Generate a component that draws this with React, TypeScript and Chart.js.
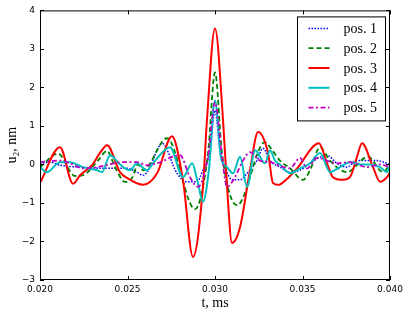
import React, { useEffect, useRef } from "react";
import { Chart, registerables } from "chart.js";

Chart.register(...registerables);

// ---- data (t in ms, u2 in nm) ----
const xTickValues = [0.02, 0.025, 0.03, 0.035, 0.04];
const yTickValues = [-3, -2, -1, 0, 1, 2, 3, 4];
const seriesLabels = ["pos. 1", "pos. 2", "pos. 3", "pos. 4", "pos. 5"];

const pos1T = [0.02, 0.02057, 0.02114, 0.02229, 0.02383, 0.02497, 0.02554, 0.02589, 0.02629, 0.02669, 0.02697, 0.02783, 0.0284, 0.02897, 0.02931, 0.0297, 0.03, 0.0303, 0.03057, 0.03097, 0.03143, 0.03189, 0.0324, 0.03274, 0.03314, 0.03371, 0.03429, 0.03486, 0.03543, 0.036, 0.0364, 0.03697, 0.03754, 0.03811, 0.03869, 0.03926, 0.03983, 0.04];
const pos1U = [0.03, 0.06, -0.02, -0.07, -0.1, -0.1, -0.2, -0.28, -0.07, 0.37, 0.55, -0.23, -0.45, -0.45, -0.15, 0.3, 1.4, 0.3, -0.07, -0.4, -0.4, -0.2, 0.1, 0.42, 0.1, -0.07, -0.2, -0.15, 0.03, 0.19, 0.24, 0.03, -0.07, 0.1, 0.1, 0.1, 0.03, 0];

const pos2T = [0.02, 0.02103, 0.022, 0.02246, 0.02331, 0.02383, 0.02429, 0.02486, 0.02526, 0.0256, 0.02589, 0.02726, 0.02886, 0.0296, 0.03, 0.0304, 0.03126, 0.03286, 0.03314, 0.03371, 0.03429, 0.03503, 0.03543, 0.036, 0.03657, 0.03754, 0.03874, 0.0396, 0.04];
const pos2U = [-0.07, 0.28, -0.3, -0.28, 0.1, 0.35, -0.07, -0.45, -0.35, 0, -0.15, 0.68, -1.16, 0.29, 2.39, 0.29, -1.06, 0.58, 0.45, 0.1, -0.1, -0.4, -0.15, 0.45, 0.1, -0.2, 0.2, -0.2, 0];

const pos3T = [0.02, 0.02114, 0.02189, 0.02229, 0.02297, 0.02343, 0.02383, 0.02457, 0.02497, 0.02589, 0.02669, 0.02754, 0.02817, 0.02874, 0.02931, 0.02954, 0.03, 0.03046, 0.03069, 0.03097, 0.03143, 0.032, 0.03246, 0.03303, 0.03331, 0.0336, 0.03417, 0.03469, 0.03594, 0.0364, 0.03674, 0.03731, 0.03771, 0.03811, 0.0384, 0.03903, 0.03943, 0.03983, 0.04];
const pos3U = [-0.48, 0.45, -0.5, -0.28, -0.02, 0.3, 0.5, -0.2, -0.35, -0.53, -0.23, 0.73, -0.41, -2.4, -0.59, 1.15, 3.53, 1.15, -0.59, -2.04, -1.63, -0.15, 0.84, 0.3, -0.48, -0.53, -0.35, -0.1, 0.55, 0.03, -0.33, -0.4, -0.33, 0.19, 0.55, -0.07, -0.45, -0.33, -0.2];

const pos4T = [0.02, 0.0204, 0.02114, 0.02171, 0.02246, 0.02326, 0.02354, 0.024, 0.02457, 0.02514, 0.02554, 0.02611, 0.02646, 0.02743, 0.02817, 0.02869, 0.02903, 0.02931, 0.02965, 0.03, 0.03035, 0.03069, 0.03103, 0.03143, 0.03183, 0.03229, 0.03286, 0.03314, 0.03343, 0.03371, 0.03429, 0.03486, 0.03543, 0.036, 0.03657, 0.03714, 0.03771, 0.03829, 0.03886, 0.03943, 0.03983, 0.04];
const pos4U = [-0.07, -0.2, 0.06, 0.06, -0.07, -0.15, -0.2, 0.24, 0, -0.15, 0.03, -0.15, 0.03, 0.45, -0.33, 0.03, -0.5, -0.97, -0.15, 1.66, 0.15, -0.07, -0.23, 0.2, -0.58, 0.37, 0.03, 0.37, 0.1, 0, -0.23, -0.1, 0.03, 0.3, -0.2, -0.07, 0.06, 0, 0, -0.07, -0.2, 0];

const pos5T = [0.02, 0.02114, 0.02171, 0.02246, 0.02326, 0.02474, 0.02554, 0.02611, 0.02669, 0.028, 0.02857, 0.02903, 0.0296, 0.03, 0.0304, 0.03069, 0.03114, 0.0316, 0.032, 0.03257, 0.03314, 0.03429, 0.03486, 0.03526, 0.03583, 0.03697, 0.03771, 0.03869, 0.03943, 0.04];
const pos5U = [0.06, 0.1, 0.03, -0.1, -0.07, 0.06, 0.06, -0.02, 0.03, 0.24, -0.33, -0.58, 0.2, 1.61, 0.2, -0.58, -0.33, 0.1, 0.32, 0.1, 0.06, -0.1, 0.17, -0.1, 0.17, 0.03, 0.06, -0.07, 0, -0.07];

const seriesT = [pos1T, pos2T, pos3T, pos4T, pos5T];
const seriesU = [pos1U, pos2U, pos3U, pos4U, pos5U];

// ---- styles ----
const colors = ["#0000ff", "#008000", "#ff0000", "#00bfbf", "#bf00bf"];
const dashes: number[][] = [[1.5, 1.5], [5, 3], [], [], [5, 2.5, 2, 2.5]];
const widths = [1.5, 1.8, 2, 2, 1.8];

const SERIF = "'Liberation Serif', 'DejaVu Serif', serif";
const SANS = "'DejaVu Sans', sans-serif";

const minusFmt = (v: number) => (v < 0 ? "\u2212" + Math.abs(v) : String(v));

const decorPlugin = {
  id: "decor",
  afterDraw(chart: any) {
    const ctx = chart.ctx as CanvasRenderingContext2D;
    const { left, right, top, bottom } = chart.chartArea;
    const xs = chart.scales.x;
    const ys = chart.scales.y;
    ctx.save();
    // frame
    ctx.strokeStyle = "#000";
    ctx.lineWidth = 1;
    ctx.setLineDash([]);
    ctx.strokeRect(left + 0.5, top + 0.5, right - left - 1, bottom - top - 1);
    // inward ticks
    const L = 4;
    ctx.beginPath();
    xTickValues.forEach((v) => {
      const px = Math.round(xs.getPixelForValue(v)) + 0.5;
      ctx.moveTo(px, bottom);
      ctx.lineTo(px, bottom - L);
      ctx.moveTo(px, top);
      ctx.lineTo(px, top + L);
    });
    yTickValues.forEach((v) => {
      const py = Math.round(ys.getPixelForValue(v)) + 0.5;
      ctx.moveTo(left, py);
      ctx.lineTo(left + L, py);
      ctx.moveTo(right, py);
      ctx.lineTo(right - L, py);
    });
    ctx.stroke();

    // legend
    const bx = right - 92.5;
    const by = top + 6.5;
    const bw = 88;
    const bh = 104;
    ctx.fillStyle = "#fff";
    ctx.fillRect(bx, by, bw, bh);
    ctx.strokeStyle = "#000";
    ctx.lineWidth = 1;
    ctx.strokeRect(bx, by, bw, bh);
    ctx.font = "14px " + SERIF;
    ctx.textBaseline = "middle";
    ctx.textAlign = "left";
    chart.data.datasets.forEach((ds: any, i: number) => {
      const y = top + 18 + i * 19.8;
      ctx.beginPath();
      ctx.strokeStyle = ds.borderColor;
      ctx.lineWidth = ds.borderWidth;
      ctx.setLineDash(ds.borderDash || []);
      ctx.moveTo(bx + 11, y);
      ctx.lineTo(bx + 32, y);
      ctx.stroke();
      ctx.setLineDash([]);
      ctx.fillStyle = "#000";
      ctx.fillText(ds.label, bx + 46, y + 1);
    });
    ctx.restore();
  },
};

export default function App() {
  const ref = useRef<HTMLCanvasElement | null>(null);

  useEffect(() => {
    document.body.style.margin = "0";
    const canvas = ref.current;
    if (!canvas) return;
    const datasets = seriesLabels.map((label, i) => ({
      label,
      data: seriesT[i].map((t, k) => ({ x: t, y: seriesU[i][k] })),
      borderColor: colors[i],
      backgroundColor: colors[i],
      borderWidth: widths[i],
      borderDash: dashes[i],
      pointRadius: 0,
      fill: false,
      cubicInterpolationMode: "monotone" as const,
      order: seriesLabels.length - 1 - i,
    }));
    const chart = new Chart(canvas, {
      type: "line",
      data: { datasets },
      plugins: [decorPlugin],
      options: {
        animation: false,
        responsive: false,
        events: [],
        layout: { padding: { top: 10, right: 19, left: 0, bottom: 0 } },
        plugins: { legend: { display: false }, tooltip: { enabled: false } },
        scales: {
          x: {
            type: "linear",
            min: 0.02,
            max: 0.04,
            afterBuildTicks: (s: any) => {
              s.ticks = xTickValues.map((v) => ({ value: v }));
            },
            afterFit: (s: any) => {
              s.height = 36;
            },
            grid: { display: false, drawTicks: false },
            border: { display: false },
            ticks: {
              padding: 4,
              color: "#000",
              font: { family: SANS, size: 9 },
              maxRotation: 0,
              callback: (v: any) => Number(v).toFixed(3),
            },
            title: {
              display: true,
              text: "t, ms",
              color: "#000",
              font: { family: SERIF, size: 14 },
              padding: { top: 0, bottom: 4 },
            },
          },
          y: {
            type: "linear",
            min: -3,
            max: 4,
            afterBuildTicks: (s: any) => {
              s.ticks = yTickValues.map((v) => ({ value: v }));
            },
            afterFit: (s: any) => {
              s.width = 40;
            },
            grid: { display: false, drawTicks: false },
            border: { display: false },
            ticks: {
              padding: 5,
              color: "#000",
              font: { family: SANS, size: 9 },
              callback: (v: any) => minusFmt(Number(v)),
            },
            title: {
              display: true,
              text: "u\u2082, nm",
              color: "#000",
              font: { family: SERIF, size: 14 },
              padding: { top: 4, bottom: 0 },
            },
          },
        },
      },
    });
    return () => chart.destroy();
  }, []);

  return (
    <div style={{ width: 409, height: 316, background: "#fff" }}>
      <canvas ref={ref} width={409} height={316} />
    </div>
  );
}
